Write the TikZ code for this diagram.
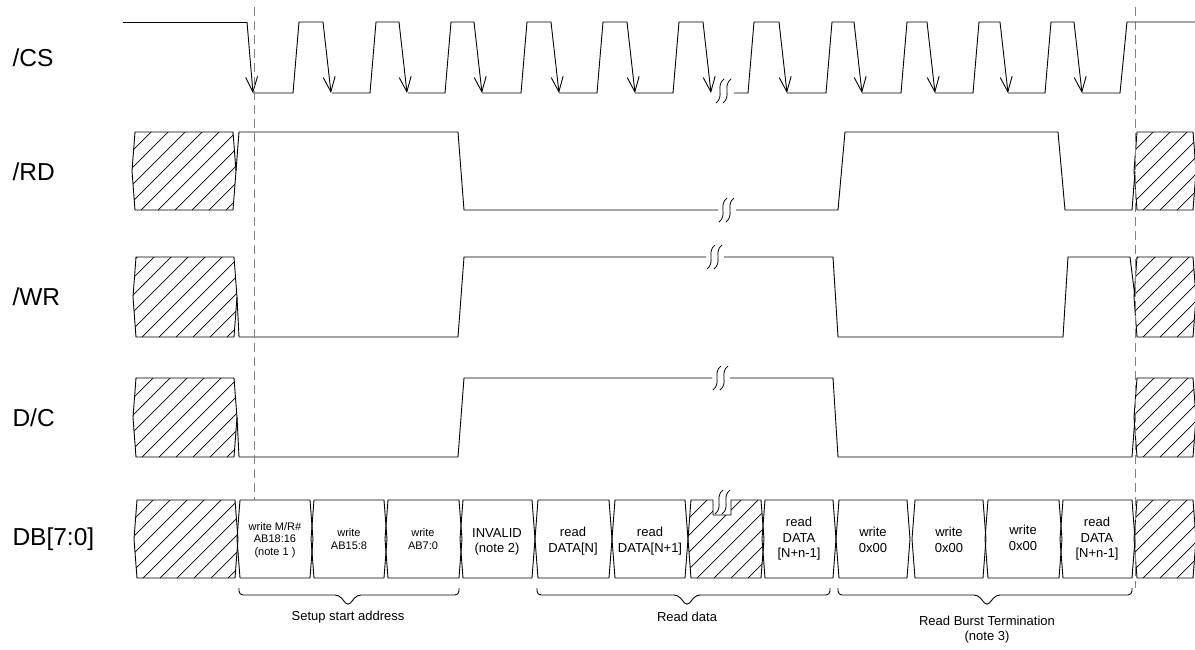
\documentclass[tikz,border=0pt]{standalone}
\usepackage{fontspec}
\setmainfont{Liberation Sans}
\usetikzlibrary{arrows.meta}

\tikzset{
  sig/.style={line width=0.9pt},
  hline/.style={line width=0.7pt},
  fallarr/.style={sig, -{Straight Barb[length=15pt, width=12pt, line width=0.9pt]}},
  guide/.style={line width=1pt, gray, dash pattern=on 9pt off 5pt},
  lbl/.style={anchor=west, font=\fontsize{24.5}{27}\selectfont},
  big/.style={align=center, font=\fontsize{13}{15.5}\selectfont},
  small/.style={align=center, font=\fontsize{11}{12.5}\selectfont},
  note/.style={align=center, font=\fontsize{13}{15}\selectfont},
}

% hatched region: #1 outline path, #2 left x, #3 bottom y
\newcommand{\hatchin}[3]{%
  \begin{scope}
    \clip #1;
    \foreach \k in {0,...,14} \draw[hline] (#2-130+17*\k,#3) -- ++(120,-120);
  \end{scope}
  \draw[sig] #1;}
% hatched box: x1, x2, top, bottom
\newcommand{\hatchbox}[4]{%
  \hatchin{(#1,#3) -- (#1-3,{(#3+#4)/2}) -- (#1,#4) -- (#2,#4) -- (#2+3,{(#3+#4)/2}) -- (#2,#3) -- cycle}{#1}{#4}}
% break mark at x, y
\newcommand{\brk}[2]{%
  \foreach \d in {0,7} \draw[line width=0.8pt] (#1+\d,#2+12) .. controls (#1+\d+9,#2+5) and (#1+\d-1,#2-5) .. (#1+\d+8,#2-12);}
% brace under the bus: x1, x2, tip
\newcommand{\busbrace}[3]{%
  \draw[sig, rounded corners=4pt] (#1,588) -- (#1,595) -- (#3-9,595) -- (#3,606) -- (#3+9,595) -- (#2,595) -- (#2,588);}

\begin{document}
\begin{tikzpicture}[x=1pt, y=-1pt]
\useasboundingbox (0,0) rectangle (1195,649);

% signal names
\node[lbl] (cs) at (9,58) {/CS};
\node[lbl] (rd) at (9,172) {/RD};
\node[lbl] (wr) at (9,297) {/WR};
\node[lbl] (dc) at (9,418) {D/C};
\node[lbl] (db) at (9,539) {DB[7:0]};

% /CS
\draw[sig] (123,22) -- (247,22);
\draw[fallarr] (247,22) -- (253,93);
\foreach \p/\r/\f in {253/293/323, 332/370/399, 408/445/474, 482/521/551, 559/597/627,
    635/673/703, 734/748/779, 787/826/854, 862/901/927, 935/973/1000, 1008/1045/1074}{
  \draw[sig] (\p,93) -- (\r,93) -- (\r+6,22) -- (\f,22);
  \draw[fallarr] (\f,22) -- (\f+8,93);
}
\draw[sig] (1082,93) -- (1120,93) -- (1127,22) -- (1195,22);
\brk{716}{91}

% /RD
\hatchbox{135}{233}{132}{210}
\draw[sig] (236,171) -- (239,132) -- (458,132) -- (464,210) -- (718,210);
\brk{719}{210}
\draw[sig] (736,210) -- (838,210) -- (845,132) -- (1058,132) -- (1065,210) -- (1132,210) -- (1135,171);
\hatchbox{1137}{1193}{132}{210}

% /WR
\hatchbox{136}{234}{257}{337}
\draw[sig] (237,297) -- (239,337) -- (458,337) -- (464,257) -- (706,257);
\brk{707}{257}
\draw[sig] (724,257) -- (833,257) -- (838,337) -- (1063,337) -- (1068,257) -- (1130,257) -- (1135,297);
\hatchbox{1137}{1193}{257}{337}

% D/C
\hatchbox{136}{234}{378}{457}
\draw[sig] (237,417) -- (239,457) -- (458,457) -- (464,378) -- (712,378);
\brk{713}{378}
\draw[sig] (730,378) -- (833,378) -- (838,457) -- (1132,457) -- (1135,417);
\hatchbox{1137}{1193}{378}{457}

% DB[7:0]
\hatchbox{137}{235}{500}{578}
\foreach \a/\b in {240/310, 314/384, 388/459, 463/532, 538/609, 615/685,
    765/833, 839/907, 915/983, 988/1059, 1063/1132}
  \draw[sig] (\a,500) -- (\a-3,539) -- (\a,578) -- (\b,578) -- (\b+3,539) -- (\b,500) -- cycle;
\hatchin{(691,500) -- (713,500) -- (713,515) -- (731,515) -- (731,500) -- (761,500) -- (764,539)
    -- (761,578) -- (691,578) -- (688,539) -- cycle}{691}{578}
\brk{715}{502}
\hatchbox{1137}{1193}{500}{578}

\node[small] (msb) at (275,540) {write M/R\#\\AB18:16\\(note 1 )};
\node[small] (mid) at (349,539) {write\\AB15:8};
\node[small] (lsb) at (423,539) {write\\AB7:0};
\node[big] (inv) at (497,542) {INVALID\\(note 2)};
\node[big] (rd0) at (573,541) {read\\DATA[N]};
\node[big] (rd1) at (650,541) {read\\DATA[N+1]};
\node[big] (rdn) at (799,539) {read\\DATA\\{}[N+n-1]};
\node[big] (wz1) at (873,540) {write\\0x00};
\node[big] (wz2) at (949,540) {write\\0x00};
\node[big] (wz3) at (1023,538) {write\\0x00};
\node[big] (rdl) at (1097,539) {read\\DATA\\{}[N+n-1]};

% guides
\draw[guide] (254,7) -- (254,500);
\draw[guide] (1135,7) -- (1135,588);

% groups
\busbrace{239}{459}{348}
\busbrace{537}{830}{687}
\busbrace{838}{1132}{987}
\node[note] (setup) at (348,617) {Setup start address};
\node[note] (rdata) at (687,617) {Read data};
\node[note] (burst) at (987,630) {Read Burst Termination\\(note 3)};
\end{tikzpicture}
\end{document}
